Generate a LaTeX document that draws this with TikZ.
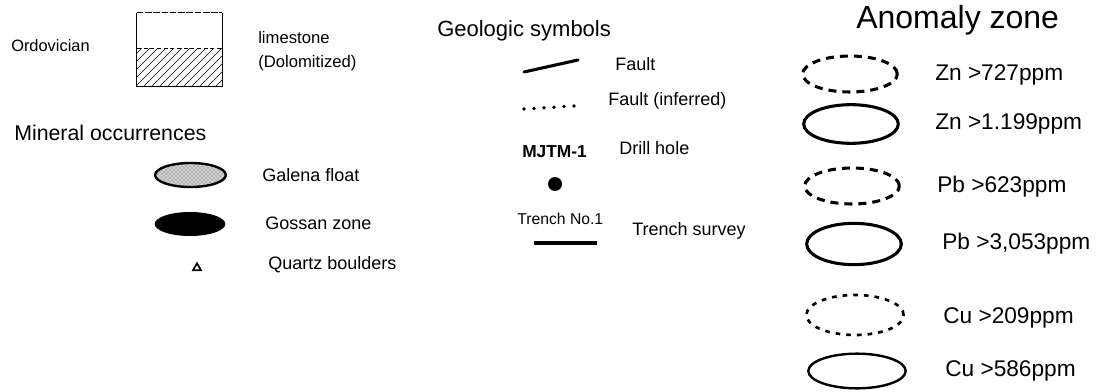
\documentclass[tikz,border=0pt]{standalone}
\usepackage{fontspec}
\setmainfont{Liberation Sans}
\usetikzlibrary{shapes.geometric,patterns,calc}
\begin{document}
\begin{tikzpicture}[x=0.75pt,y=-0.75pt,
  lbl/.style={anchor=west,inner sep=0pt,font=\fontsize{13.5}{16}\selectfont},
  big/.style={anchor=west,inner sep=0pt,font=\fontsize{16.5}{19}\selectfont},
  anom/.style={anchor=west,inner sep=0pt,font=\fontsize{17}{20}\selectfont},
  zone/.style={ellipse,inner sep=0pt,line width=2.3pt,minimum width=71pt,minimum height=27pt},
  dzone/.style={zone,dash pattern=on 6pt off 4.5pt},
  ddzone/.style={zone,line width=2pt,dash pattern=on 3.5pt off 4.5pt},
  szone/.style={zone,draw},
  hatch/.style={line width=0.5pt}]
\useasboundingbox (0,0) rectangle (1099,392);

% Ordovician
\node[lbl,font=\fontsize{12.3}{15}\selectfont] (ord) at (11,46) {Ordovician};
\node[minimum width=63.75pt,minimum height=54.75pt,inner sep=0pt] (box) at (179.5,49.5) {};
\draw[line width=0.6pt] (box.north east) -- (box.south east) -- (box.south west) -- (box.north west);
\draw[line width=0.6pt,dash pattern=on 5pt off 1.2pt] (box.north west) -- (box.north east);
\coordinate (divl) at (137,48);
\coordinate (divr) at (222,48);
\begin{scope}
  \clip (divl) rectangle (box.south east);
  \foreach \i in {-40,-32,...,230} \draw[hatch] (\i,86) -- ++(38,-38);
\end{scope}
\draw[line width=0.5pt,densely dashed] (divl) -- (divr);
\node[lbl,font=\fontsize{12.5}{15}\selectfont] (lime) at (258,38) {limestone};
\node[lbl,font=\fontsize{12.5}{15}\selectfont] (dolo) at (258,63) {(Dolomitized)};

% Mineral occurrences
\node[lbl,font=\fontsize{16}{19}\selectfont] (min) at (14,133) {Mineral occurrences};
\node[ellipse,draw,line width=1.8pt,preaction={fill=gray!35},pattern=crosshatch dots,pattern color=black!70,minimum width=53pt,minimum height=18pt,inner sep=0pt] (gal) at (190.5,175) {};
\node[lbl] (galt) at (262,175) {Galena float};
\node[ellipse,fill=black,minimum width=53pt,minimum height=18pt,inner sep=0pt] (gos) at (190,224) {};
\node[lbl] (gost) at (265,223) {Gossan zone};
\node[regular polygon,regular polygon sides=3,draw,line width=1.3pt,minimum size=7pt,inner sep=0pt] (qtz) at (197,268) {};
\node[lbl] (qtzt) at (268,265) {Quartz boulders};

% Geologic symbols
\node[big] (geo) at (437,31) {Geologic symbols};
\coordinate (f1) at (524,72);
\coordinate (f2) at (578,60);
\draw[line width=2.3pt,line cap=round] (f1) -- (f2);
\node[lbl] (fault) at (615,64) {Fault};
\foreach \k in {0,...,5} \fill ($(524,109)+(10*\k,-0.6*\k)$) circle (1.4pt);
\node[lbl] (fi) at (608,101) {Fault (inferred)};
\node[lbl,font=\bfseries\fontsize{13}{16}\selectfont] (mjtm) at (522,152) {MJTM-1};
\node[lbl] (drill) at (619,148) {Drill hole};
\node[circle,fill=black,minimum size=10.5pt,inner sep=0pt] (dh) at (555,184) {};
\node[lbl,font=\fontsize{11.8}{14}\selectfont] (tno) at (517,219) {Trench No.1};
\coordinate (t1) at (534,243);
\coordinate (t2) at (597,243);
\draw[line width=2.3pt] (t1) -- (t2);
\node[lbl] (ts) at (632,231) {Trench survey};

% Anomaly zone
\node[anchor=west,inner sep=0pt,font=\fontsize{24}{28}\selectfont] (az) at (856,20) {Anomaly zone};
\node[dzone,draw] (zn1) at (850,74) {};
\node[anom] (zn1t) at (935,75) {Zn >727ppm};
\node[szone,minimum height=29pt] (zn2) at (851,124) {};
\node[anom] (zn2t) at (935,124) {Zn >1.199ppm};
\node[dzone,draw] (pb1) at (852,186) {};
\node[anom] (pb1t) at (937,187) {Pb >623ppm};
\node[szone,minimum height=31pt] (pb2) at (854,244) {};
\node[anom] (pb2t) at (942,244) {Pb >3,053ppm};
\node[ddzone,draw,minimum width=73pt,minimum height=30pt] (cu1) at (855,315) {};
\node[anom] (cu1t) at (943,318) {Cu >209ppm};
\node[szone,line width=1.8pt,minimum width=73pt,minimum height=26pt] (cu2) at (857,371) {};
\node[anom] (cu2t) at (945,371) {Cu >586ppm};
\end{tikzpicture}
\end{document}
